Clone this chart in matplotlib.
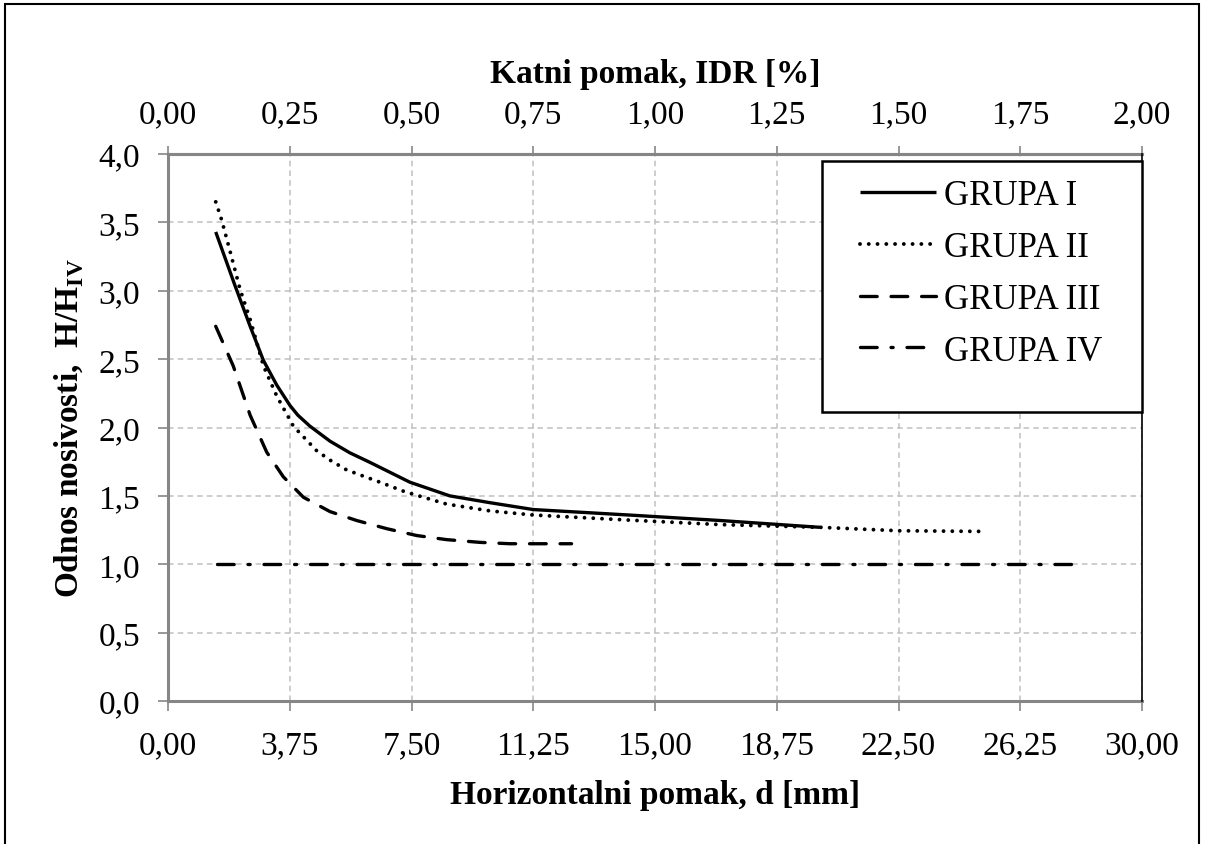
import matplotlib
matplotlib.use("Agg")
import matplotlib.pyplot as plt
from matplotlib.ticker import FuncFormatter, FixedLocator
from matplotlib.patches import Rectangle

plt.rcParams['font.family'] = ['Liberation Serif', 'DejaVu Serif']
plt.rcParams['mathtext.fontset'] = 'custom'
plt.rcParams['mathtext.rm'] = 'Liberation Serif'
plt.rcParams['mathtext.bf'] = 'Liberation Serif:bold'
plt.rcParams['lines.scale_dashes'] = False

# Data (d in mm, ratio H/H_IV)
g1_d = [1.47, 2.06, 2.53, 2.94, 3.35, 3.76, 4.0, 4.37, 4.99, 5.6, 6.22, 7.45,
        8.68, 9.92, 11.25, 14.2, 17.0, 20.08]
g1_h = [3.43, 3.04, 2.74, 2.49, 2.31, 2.16, 2.09, 2.01, 1.90, 1.815, 1.745, 1.60,
        1.50, 1.45, 1.40, 1.36, 1.32, 1.27]
g2_d = [1.47, 1.65, 1.91, 2.22, 2.53, 2.94, 3.35, 3.86, 4.58, 5.0, 5.5, 6.01,
        6.53, 7.30, 8.58, 9.92, 11.25, 14.02, 17.0, 20.1, 22.5, 25.1]
g2_h = [3.65, 3.52, 3.29, 3.01, 2.79, 2.45, 2.23, 2.01, 1.83, 1.76, 1.69, 1.645,
        1.60, 1.53, 1.44, 1.39, 1.36, 1.325, 1.29, 1.27, 1.245, 1.24]
g3_d = [1.47, 2.01, 2.53, 3.04, 3.55, 4.17, 4.99, 5.81, 6.74, 7.66, 8.58, 9.61,
        10.53, 12.43]
g3_h = [2.74, 2.45, 2.09, 1.82, 1.64, 1.49, 1.385, 1.32, 1.26, 1.21, 1.18, 1.16,
        1.15, 1.15]
g4_d = [1.5, 27.8]
g4_h = [1.0, 1.0]
labels = ['GRUPA I', 'GRUPA II', 'GRUPA III', 'GRUPA IV']

x_ticks = [0, 3.75, 7.5, 11.25, 15, 18.75, 22.5, 26.25, 30]
idr_ticks = [0, 0.25, 0.5, 0.75, 1.0, 1.25, 1.5, 1.75, 2.0]
y_ticks = [0, 0.5, 1.0, 1.5, 2.0, 2.5, 3.0, 3.5, 4.0]

GRAY = '#868686'
fig = plt.figure(figsize=(12.05, 8.45), dpi=100)
ax = fig.add_axes([168/1205, 1-702/845, (1142-168)/1205, (702-155)/845])

ax.plot(g1_d, g1_h, color='black', lw=2.4, solid_capstyle='butt',
        solid_joinstyle='round', label=labels[0])
ax.plot(g2_d, g2_h, color='black', lw=2.8, linestyle=(0, (0.01, 6.3)),
        dash_capstyle='round', label=labels[1])
ax.plot(g3_d, g3_h, color='black', lw=2.4, linestyle=(0, (12, 10)),
        dash_capstyle='round', label=labels[2])
ax.plot(g4_d, g4_h, color='black', lw=2.4, linestyle=(0, (12, 10, 1.5, 10)),
        dash_capstyle='round', label=labels[3])

ax.set_xlim(0, 30)
ax.set_ylim(0, 4)
ax.xaxis.set_major_locator(FixedLocator(x_ticks))
ax.yaxis.set_major_locator(FixedLocator(y_ticks))
ax.xaxis.set_major_formatter(FuncFormatter(lambda v, p: f"{v:.2f}".replace('.', ',')))
ax.yaxis.set_major_formatter(FuncFormatter(lambda v, p: f"{v:.1f}".replace('.', ',')))
ax.grid(True, color='#c0c0c0', linestyle=(0, (4, 3)), lw=1.1)
ax.set_axisbelow(True)

for s in ['left', 'bottom', 'top']:
    ax.spines[s].set_color(GRAY)
    ax.spines[s].set_linewidth(2.2)
ax.spines['right'].set_color('black')
ax.spines['right'].set_linewidth(1.2)
ax.spines['right'].set_zorder(5)

ax.tick_params(axis='x', direction='out', length=7, width=1.2, color=GRAY,
               labelsize=24, pad=14)
ax.tick_params(axis='y', direction='out', length=7, width=1.2, color=GRAY,
               labelsize=24, pad=13)

sec = ax.secondary_xaxis('top', functions=(lambda d: d / 15.0, lambda p: p * 15.0))
sec.xaxis.set_major_locator(FixedLocator(idr_ticks))
sec.xaxis.set_major_formatter(FuncFormatter(lambda v, p: f"{v:.2f}".replace('.', ',')))
sec.tick_params(axis='x', direction='out', length=6, width=1.2, color=GRAY,
                labelsize=24, pad=12)
sec.spines['top'].set_color(GRAY)
sec.spines['top'].set_linewidth(2.2)
sec.set_xlabel('Katni pomak, IDR [%]', fontsize=24, fontweight='bold', labelpad=12)

ax.set_xlabel('Horizontalni pomak, d [mm]', fontsize=24, fontweight='bold', labelpad=13)
ax.set_ylabel(r'Odnos nosivosti,  H/H$_\mathbf{IV}$', fontsize=24, fontweight='bold',
              labelpad=10)

# legend box
x0 = (822 - 168) / 974
y0 = (702 - 413) / 547
y1 = (702 - 162) / 547
ax.add_patch(Rectangle((x0, y0), 1 - x0, y1 - y0, transform=ax.transAxes,
                       facecolor='white', edgecolor='black', lw=1.8, zorder=6,
                       clip_on=False))
leg = ax.legend(loc='center',
                bbox_to_anchor=((x0 + 1) / 2 - 1 / 974, (y0 + y1) / 2 + 13 / 547),
                fontsize=25, frameon=False, handlelength=2.2, handletextpad=0.23,
                labelspacing=0.54, borderpad=0)
leg.set_zorder(7)

fig.patches.append(Rectangle((5/1205, -0.05), (1199-5)/1205, 1.05 - 5/845,
                             transform=fig.transFigure, fill=False,
                             edgecolor='black', lw=1.5))

fig.savefig('out.png', dpi=100)
